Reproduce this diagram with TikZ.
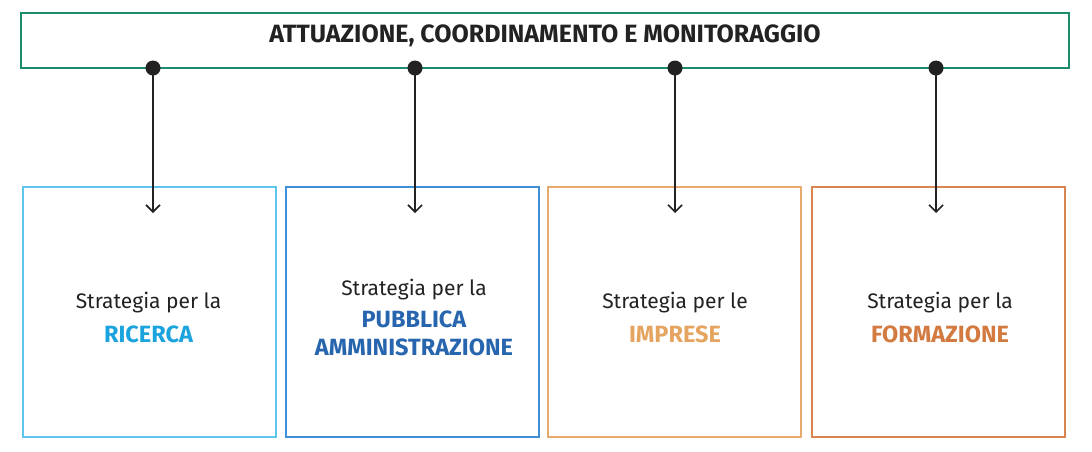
\documentclass[tikz,border=0pt]{standalone}
\usepackage{fontspec}
\setmainfont{Fira Sans}
\usetikzlibrary{arrows.meta}
\definecolor{topgreen}{HTML}{1C8C6C}
\definecolor{bA}{HTML}{5CC6EE}
\definecolor{tA}{HTML}{1AA3DD}
\definecolor{bB}{HTML}{3F8FD6}
\definecolor{tB}{HTML}{2766AE}
\definecolor{bC}{HTML}{E9AA6B}
\definecolor{tC}{HTML}{E6A461}
\definecolor{bD}{HTML}{D98550}
\definecolor{tD}{HTML}{D27A40}
\definecolor{ink}{HTML}{222222}
\begin{document}
\begin{tikzpicture}[x=1pt,y=-1pt,
  topbox/.style={draw=topgreen,line width=2pt,minimum width=1048pt,minimum height=55pt,inner sep=0pt},
  stratbox/.style={line width=2pt,minimum width=253pt,minimum height=250pt,inner sep=0pt},
  reg/.style={anchor=base,inner sep=0pt,text=ink,font=\fontsize{21}{25}\selectfont},
  bld/.style={anchor=base,inner sep=0pt,font=\fontsize{23.5}{28}\selectfont\bfseries},
  conn/.style={draw=ink,line width=1.6pt,-{Straight Barb[length=7pt,width=14pt,line width=1.6pt]}},
  dot/.style={circle,fill=ink,minimum size=15pt,inner sep=0pt}]
\useasboundingbox (0,0) rectangle (1092,451);
\node[topbox] (top) at (545,40.5) {};
\node[anchor=base,inner sep=0pt,font=\fontsize{25}{30}\selectfont\bfseries,text=ink] (title) at (545,42) {ATTUAZIONE, COORDINAMENTO E MONITORAGGIO};
\node[stratbox,draw=bA] (b1) at (149,312) {};
\node[stratbox,draw=bB] (b2) at (412.5,312) {};
\node[stratbox,draw=bC] (b3) at (674.5,312) {};
\node[stratbox,draw=bD] (b4) at (938.5,312) {};
\node[reg] (l1a) at (148.5,308) {Strategia per la};
\node[bld,text=tA] (l1b) at (148.5,342) {RICERCA};
\node[reg] (l2a) at (414,295) {Strategia per la};
\node[bld,text=tB] (l2b) at (414,327.5) {PUBBLICA};
\node[bld,text=tB] (l2c) at (414,355) {AMMINISTRAZIONE};
\node[reg] (l3a) at (675,308) {Strategia per le};
\node[bld,text=tC] (l3b) at (675,342) {IMPRESE};
\node[reg] (l4a) at (940,308) {Strategia per la};
\node[bld,text=tD] (l4b) at (940,342) {FORMAZIONE};
\foreach \i/\x in {1/153,2/415,3/675,4/936}{
  \node[dot] (d\i) at (\x,68) {};
  \coordinate (e\i) at (\x,213);
  \draw[conn] (d\i.center) -- (e\i);
}
\end{tikzpicture}
\end{document}
